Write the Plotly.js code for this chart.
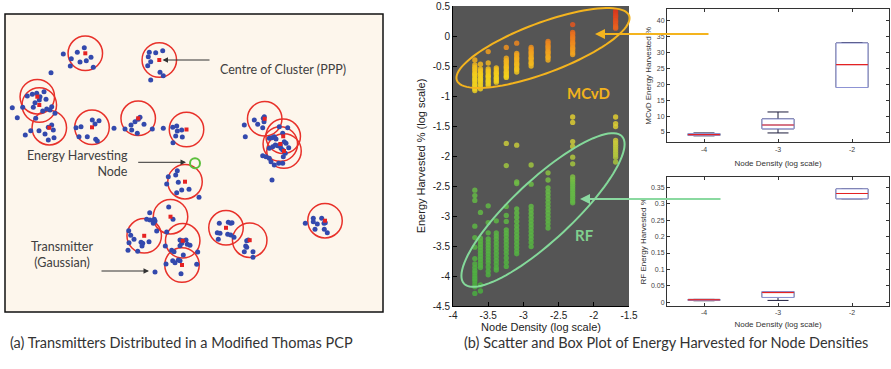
<!DOCTYPE html>
<html><head><meta charset="utf-8">
<script src="https://cdn.plot.ly/plotly-3.0.1.min.js"></script>
<style>html,body{margin:0;padding:0;background:#fff}#chart{width:891px;height:369px}</style>
</head><body><div id="chart"></div>
<script>
// ---------- Panel (a): modified Thomas point process (spatial units) ----------
const clusterX = [85.3,159.3,37.3,39.3,49.3,92,138.2,186.5,185,264.7,283.2,280.3,284,170.5,144.2,182.7,182,226,249.7,325];
const clusterY = [53.3,60,96.7,105,127.7,127.3,118.3,129.5,181.7,118.8,136.3,144,151,216.7,235.8,240.8,265,227.8,240.2,220.7];
const txX = [63.3,77.3,84.3,71.3,80,86.3,91,70.3,93.3,51,
 149.3,155.7,162.7,148.3,150.7,147.7,160,163.3,150.7,
 12.3,17.3,22.7,27.3,32.3,36.7,40,44,46,33.3,35,39.3,42.7,46.7,50,51.7,55,35.7,25.3,30.7,39,45,48.3,51.7,53.3,48.3,54,
 76,81,92.3,95,99,79,87.3,95.7,97.3,114,
 125,131,131.7,135,138.3,140,144,137.3,152.3,
 163.3,172.7,176.7,177.3,181.7,175.7,182.3,173,
 177.3,175.7,178.3,166.7,181.7,176.7,189,199,168.3,
 244.3,245.3,254.3,257.7,262.7,263.3,264.3,264,269.3,272,274.3,276,279.3,287.7,282.7,284.3,286,288.7,269.3,272.7,275.3,277.7,280.3,281,282.7,262.7,266,269.3,271,274.3,278.7,282.7,283.3,285.3,272,
 149.7,146.7,150,153.3,155,154.3,168.7,173,156.7,166.7,128.7,130.7,134,129,141,142.7,142,149,128,137.7,165.3,180,182.7,186,181.7,187.3,190,180,171.7,174,197.7,183.3,166,172.7,175,178.3,180,196.7,181,155,
 219.3,228.3,230.7,232,217.3,220,218.3,227.7,230.7,234,246.7,248.3,245.7,246.7,244.3,253,253,
 305.3,313.3,313.3,317.3,321.7,324,325.3,315,324.3,327.3];
const txY = [54,52.3,47.7,58.7,62,60.7,57.3,66,67.3,72.7,
 52.3,52.7,50.7,56.7,61.7,65.7,72.3,75.7,80,
 107.7,117.7,107.3,96,94.3,93.3,96.7,91.7,99.3,107.3,102.7,100,111,109,110,106.7,113.3,118.3,135,130.7,130.7,134,127.3,125,130,140,137.7,
 127.7,126.7,120,124,120.7,136.7,136.7,139.3,141,128.3,
 129,125,130,121.7,119.3,117.3,124.3,133.3,129,
 128.3,127.3,126,131,130,136,137,142.7,
 170.7,175,182.3,184,190,192.7,189.3,197.3,176.7,
 125,136.7,120,124.3,127.7,118.3,116.7,121.7,138.3,137.7,136.7,139,126.7,127.7,133.3,141.7,143.3,147.7,148.3,146.7,145,145.7,145,148.3,150,155.7,156.7,158.3,161.7,165,163.3,163.3,156.7,153.3,180,
 212.7,219.3,220,223.3,221,219.3,207,219.3,231,232,230.7,235.3,239.3,242.7,242.3,243.3,246,241.7,250.3,251.3,246,240,240.7,240,243.3,244.3,245.3,245.7,250.3,251.7,252,255,264,260.7,262.7,260,260.7,264.3,273.7,272,
 223.3,222.3,223.3,222.7,232.7,233.3,239.3,234.3,235,237.3,240.7,240,246,247.3,251.7,251.7,257.3,
 223.3,218.3,221.7,224,218.3,223.3,222.7,229.3,229.3,232.7];
const nodeX = [195];
const nodeY = [163.3];

// ---------- Panel (b) scatter: log10 node density vs log10 energy harvested % ----------
const densityLog = [-3.69,-3.61,-3.50,-3.385,-3.243,-3.095,-2.89,-2.65,-2.30,-1.69];
const mcvdLog = [
 [-0.40,-0.48,-0.52,-0.55,-0.58,-0.62,-0.64,-0.67,-0.71,-0.73,-0.76,-0.80,-0.82,-0.85,-0.88,-0.91],
 [-0.47,-0.55,-0.58,-0.62,-0.64,-0.67,-0.71,-0.73,-0.76,-0.80,-0.84,-0.88],
 [-0.26,-0.45,-0.55,-0.58,-0.61,-0.65,-0.67,-0.70,-0.74,-0.76,-0.79,-0.82],
 [-0.53,-0.56,-0.60,-0.62,-0.65,-0.69,-0.71,-0.74,-0.77],
 [-0.19,-0.37,-0.41,-0.43,-0.46,-0.50,-0.52,-0.55,-0.59,-0.61,-0.64,-0.67,-0.69],
 [-0.12,-0.29,-0.32,-0.36,-0.38,-0.41,-0.45,-0.47,-0.50,-0.54,-0.56,-0.60],
 [-0.19,-0.22,-0.26,-0.28,-0.31,-0.35,-0.37,-0.40,-0.44,-0.46,-0.50],
 [-0.09,-0.12,-0.16,-0.18,-0.21,-0.25,-0.27,-0.30,-0.34,-0.36,-0.40],
 [0.19,0.06,0.03,-0.01,-0.03,-0.06,-0.10,-0.12,-0.15,-0.19,-0.21,-0.24,-0.28,-0.31],
 [0.42,0.39,0.35,0.33,0.30,0.26,0.24,0.21,0.17,0.15,0.13]
];
const rfLog = [
 [-2.57,-2.66,-2.74,-3.17,-3.36,-3.52,-3.71,-3.80,-3.86,-3.91,-3.95,-4.00,-4.04,-4.08,-4.13,-4.18,-4.29],
 [-2.94,-3.37,-3.42,-3.47,-3.52,-3.57,-3.62,-3.67,-3.72,-3.77,-3.82,-3.86,-4.15,-4.25],
 [-2.83,-3.11,-3.28,-3.38,-3.43,-3.48,-3.53,-3.58,-3.63,-3.68,-3.73,-3.78,-3.85,-3.92,-3.98],
 [-3.08,-3.28,-3.33,-3.38,-3.44,-3.50,-3.56,-3.62,-3.68,-3.74,-3.80,-3.86,-3.90],
 [-1.79,-2.16,-2.84,-2.99,-3.09,-3.23,-3.28,-3.33,-3.39,-3.45,-3.51,-3.57,-3.63,-3.70,-3.77,-3.84],
 [-1.82,-2.43,-2.46,-2.88,-2.95,-3.02,-3.09,-3.16,-3.22,-3.28,-3.34,-3.40,-3.46,-3.52,-3.58,-3.63],
 [-2.15,-2.47,-2.84,-2.90,-2.96,-3.02,-3.08,-3.14,-3.20,-3.26,-3.32,-3.38,-3.44,-3.51],
 [-2.28,-2.40,-2.53,-2.59,-2.65,-2.71,-2.77,-2.83,-2.89,-2.95,-3.01,-3.07,-3.13,-3.20],
 [-1.35,-1.44,-1.76,-1.84,-2.02,-2.13,-2.35,-2.39,-2.43,-2.47,-2.51,-2.55,-2.59,-2.63,-2.67,-2.71,-2.75,-2.78],
 [-1.35,-1.46,-1.51,-1.74,-1.78,-1.82,-1.86,-1.90,-1.94,-1.98,-2.02,-2.10]
];
const scatterXTicks = [-4,-3.5,-3,-2.5,-2,-1.5];
const scatterXText = ['-4','-3.5','-3','-2.5','-2','-1.5'];
const scatterYTicks = [0.5,0,-0.5,-1,-1.5,-2,-2.5,-3,-3.5,-4,-4.5];
const scatterYText = ['0.5','0','-0.5','-1','-1.5','-2','-2.5','-3','-3.5','-4','-4.5'];

// ---------- Panel (b) box plots ----------
const boxDensity = [-4,-3,-2];
const boxDensityText = ['-4','-3','-2'];
const mcvdQ1 = [3.9,6.0,19.0], mcvdMed = [4.2,7.2,26.2], mcvdQ3 = [4.5,9.1,33.0], mcvdLo = [3.8,4.7,19.0], mcvdHi = [4.7,11.3,33.1];
const rfQ1 = [0.006,0.015,0.315], rfMed = [0.008,0.030,0.331], rfQ3 = [0.009,0.033,0.345], rfLo = [0.005,0.006,0.315], rfHi = [0.009,0.033,0.345];
const mcvdYTicks = [5,10,15,20,25,30,35,40];
const rfYTicks = [0,0.05,0.1,0.15,0.2,0.25,0.3,0.35];
const rfYText = ['0','0.05','0.1','0.15','0.2','0.25','0.3','0.35'];

// ---------- helpers (layout geometry in figure pixels) ----------
const W = 891, H = 369;
const dx = (a,b) => [a/W, b/W];
const dy = (top,bot) => [1-bot/H, 1-top/H];
const px = x => x/W, py = y => 1 - y/H;
function ellipsePath(cx, cy, a, b, deg){
  const t0 = deg*Math.PI/180, ux = Math.cos(t0), uy = -Math.sin(t0), nx = Math.sin(t0), ny = Math.cos(t0);
  let s = '';
  for(let i=0;i<=96;i++){
    const t = i/96*2*Math.PI;
    const X = cx + a*Math.cos(t)*ux + b*Math.sin(t)*nx;
    const Y = cy + a*Math.cos(t)*uy + b*Math.sin(t)*ny;
    s += (i?'L':'M') + px(X).toFixed(5) + ',' + py(Y).toFixed(5);
  }
  return s + 'Z';
}

const traces = [];
// Panel (a)
traces.push({type:'scatter', mode:'markers', x:clusterX, y:clusterY, xaxis:'x', yaxis:'y', hoverinfo:'skip',
  marker:{symbol:'circle-open', size:34.5, color:'#e8312a', line:{width:1.5}}});
traces.push({type:'scatter', mode:'markers', x:txX, y:txY, xaxis:'x', yaxis:'y', hoverinfo:'skip',
  marker:{size:5, color:'#3349ad'}});
traces.push({type:'scatter', mode:'markers', x:clusterX, y:clusterY, xaxis:'x', yaxis:'y', hoverinfo:'skip',
  marker:{symbol:'square', size:4, color:'#e62222'}});
traces.push({type:'scatter', mode:'markers', x:nodeX, y:nodeY, xaxis:'x', yaxis:'y', hoverinfo:'skip',
  marker:{symbol:'circle-open', size:10, color:'#5cbf3c', line:{width:2}}});

// Panel (b) scatter
function flatten(groups){ const xs=[], ys=[]; groups.forEach((g,i)=>g.forEach(v=>{xs.push(densityLog[i]); ys.push(v);})); return {xs, ys}; }
const cscale = [[0,'#4aae41'],[0.38,'#68bb46'],[0.46,'#a6c63e'],[0.55,'#d6cc3a'],[0.76,'#f3d11c'],[0.84,'#f2a51f'],[0.93,'#e8621f'],[1,'#d9301c']];
[rfLog, mcvdLog].forEach(g=>{
  const f = flatten(g);
  traces.push({type:'scatter', mode:'markers', x:f.xs, y:f.ys, xaxis:'x2', yaxis:'y2', hoverinfo:'skip',
    marker:{size:5.3, opacity:0.85, color:f.ys, colorscale:cscale, cmin:-4.3, cmax:0.45, showscale:false}});
});

// Box plots
const boxW = 0.43;
function boxTraces(q1, med, q3, lo, hi, xa, ya){
  const out = [];
  out.push({type:'box', x:boxDensity, q1:q1, median:med, q3:q3, lowerfence:lo, upperfence:hi, xaxis:xa, yaxis:ya,
    width:boxW, whiskerwidth:0.66, line:{color:'#1c1c3c', width:1}, fillcolor:'rgba(0,0,0,0)', hoverinfo:'skip', boxpoints:false});
  out.push({type:'box', x:boxDensity, q1:q1, median:med, q3:q3, lowerfence:q1, upperfence:q3, xaxis:xa, yaxis:ya,
    width:boxW, whiskerwidth:0, line:{color:'#8d93d4', width:1}, fillcolor:'#ffffff', hoverinfo:'skip', boxpoints:false});
  const mx=[], my=[];
  boxDensity.forEach((d,i)=>{ mx.push(d-boxW/2, d+boxW/2, null); my.push(med[i], med[i], null); });
  out.push({type:'scatter', mode:'lines', x:mx, y:my, xaxis:xa, yaxis:ya, line:{color:'#e52222', width:1.2}, hoverinfo:'skip'});
  return out;
}
traces.push(...boxTraces(mcvdQ1, mcvdMed, mcvdQ3, mcvdLo, mcvdHi, 'x3', 'y3'));
traces.push(...boxTraces(rfQ1, rfMed, rfQ3, rfLo, rfHi, 'x4', 'y4'));

const tickFontS = {family:'Liberation Sans, Arial, sans-serif', size:10, color:'#222'};
const tickFontB = {family:'Liberation Sans, Arial, sans-serif', size:7, color:'#444'};
const titleFontS = {family:'Liberation Sans, Arial, sans-serif', size:11, color:'#222'};
const titleFontB = {family:'Liberation Sans, Arial, sans-serif', size:8, color:'#333'};
const boxAxis = {showline:true, mirror:'allticks', linecolor:'#333', linewidth:1, ticks:'inside', ticklen:3, tickcolor:'#333', showgrid:false, zeroline:false, tickfont:tickFontB};
const txtFont = {family:'Lato, sans-serif', size:12.5, color:'#404040'};
const capFont = {family:'Lato, sans-serif', size:14.5, color:'#333'};

const layout = {
  width:W, height:H, margin:{l:0,r:0,t:0,b:0}, paper_bgcolor:'#fff', plot_bgcolor:'#fff', showlegend:false, boxmode:'overlay',
  xaxis:{domain:dx(5,383), range:[5,383], visible:false, fixedrange:true},
  yaxis:{domain:dy(14,312), range:[312,14], visible:false, fixedrange:true},
  xaxis2:{domain:dx(453,629), range:[-4,-1.5], anchor:'y2', showline:true, linecolor:'#000', linewidth:1, ticks:'inside', ticklen:4, tickcolor:'#000',
    tickvals:scatterXTicks, ticktext:scatterXText, showgrid:false, zeroline:false, tickfont:tickFontS,
    title:{text:'Node Density (log scale)', font:titleFontS, standoff:2}},
  yaxis2:{domain:dy(6,306), range:[-4.5,0.5], anchor:'x2', showline:true, linecolor:'#000', linewidth:1, ticks:'inside', ticklen:4, tickcolor:'#000',
    tickvals:scatterYTicks, ticktext:scatterYText, showgrid:false, zeroline:false, tickfont:tickFontS,
    title:{text:'Energy Harvested % (log scale)', font:titleFontS, standoff:4}},
  xaxis3:Object.assign({domain:dx(667,889), range:[-4.5,-1.5], anchor:'y3', tickvals:boxDensity, ticktext:boxDensityText,
    title:{text:'Node Density (log scale)', font:titleFontB, standoff:8}}, boxAxis),
  yaxis3:Object.assign({domain:dy(9.3,142.3), range:[1.76,43.6], anchor:'x3', tickvals:mcvdYTicks,
    title:{text:'MCvD Energy Harvested %', font:titleFontB, standoff:3}}, boxAxis),
  xaxis4:Object.assign({domain:dx(667,889), range:[-4.5,-1.5], anchor:'y4', tickvals:boxDensity, ticktext:boxDensityText,
    title:{text:'Node Density (log scale)', font:titleFontB, standoff:5}}, boxAxis),
  yaxis4:Object.assign({domain:dy(176.7,306), range:[-0.011,0.382], anchor:'x4', tickvals:rfYTicks, ticktext:rfYText,
    title:{text:'RF Energy Harvested %', font:titleFontB, standoff:3}}, boxAxis),
  shapes:[
    {type:'rect', xref:'x domain', yref:'y domain', x0:0, x1:1, y0:0, y1:1, fillcolor:'#fdf6ec', line:{color:'#111', width:1.5}, layer:'below'},
    {type:'rect', xref:'x2 domain', yref:'y2 domain', x0:0, x1:1, y0:0, y1:1, fillcolor:'#555555', line:{width:0}, layer:'below'},
    {type:'path', xref:'paper', yref:'paper', path:ellipsePath(543,48,92,25,20.6), line:{color:'#f4b41e', width:2}},
    {type:'path', xref:'paper', yref:'paper', path:ellipsePath(543,210,108,30,43), line:{color:'#84d99a', width:2}}
  ],
  annotations:[
    {xref:'paper', yref:'paper', x:px(595), y:py(34), text:'', showarrow:true, ax:115, ay:0, arrowhead:2, arrowsize:1, arrowwidth:2, arrowcolor:'#f4b41e', standoff:0},
    {xref:'paper', yref:'paper', x:px(580), y:py(199), text:'', showarrow:true, ax:142, ay:0, arrowhead:2, arrowsize:1, arrowwidth:2, arrowcolor:'#8ad9a0', standoff:0},
    {xref:'paper', yref:'paper', x:px(588), y:py(82), text:'<b>MCvD</b>', showarrow:false, font:{family:'Lato, sans-serif', size:15, color:'#f2b21c'}},
    {xref:'paper', yref:'paper', x:px(584), y:py(235), text:'<b>RF</b>', showarrow:false, font:{family:'Lato, sans-serif', size:15, color:'#80d08e'}},
    {xref:'paper', yref:'paper', x:px(162.5), y:py(60), text:'', showarrow:true, ax:48.5, ay:0, arrowhead:2, arrowsize:1.1, arrowwidth:1, arrowcolor:'#333', standoff:0},
    {xref:'paper', yref:'paper', x:px(186), y:py(162.3), text:'', showarrow:true, ax:-49.3, ay:0, arrowhead:2, arrowsize:1.1, arrowwidth:1, arrowcolor:'#333', standoff:0},
    {xref:'paper', yref:'paper', x:px(149), y:py(271), text:'', showarrow:true, ax:-49, ay:0, arrowhead:2, arrowsize:1.1, arrowwidth:1, arrowcolor:'#333', standoff:0},
    {xref:'paper', yref:'paper', x:px(218), y:py(60), xanchor:'left', text:'Centre of Cluster (PPP)', showarrow:false, font:txtFont},
    {xref:'paper', yref:'paper', x:px(130), y:py(163), xanchor:'right', align:'right', text:'Energy Harvesting<br>Node', showarrow:false, font:txtFont},
    {xref:'paper', yref:'paper', x:px(62), y:py(272), xanchor:'center', align:'center', text:'Transmitter<br>(Gaussian)', showarrow:false, font:txtFont},
    {xref:'paper', yref:'paper', x:px(8), y:py(353), xanchor:'left', text:'(a) Transmitters Distributed in a Modified Thomas PCP', showarrow:false, font:capFont},
    {xref:'paper', yref:'paper', x:px(462), y:py(353), xanchor:'left', text:'(b) Scatter and Box Plot of Energy Harvested for Node Densities', showarrow:false, font:capFont}
  ]
};
Plotly.newPlot('chart', traces, layout, {staticPlot:true, displayModeBar:false});
</script></body></html>
